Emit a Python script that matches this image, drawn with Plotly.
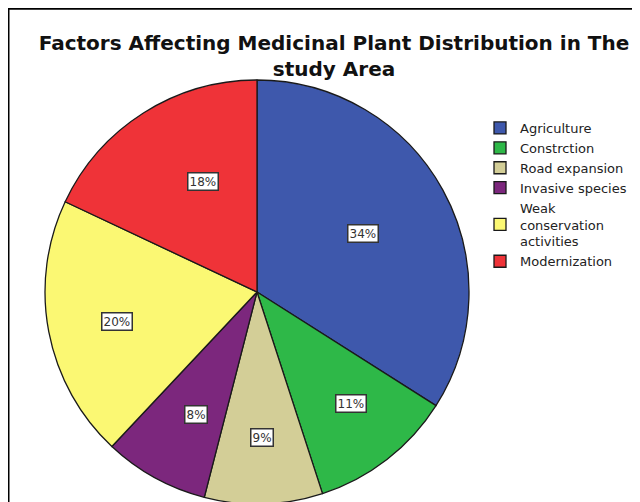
import numpy as np
import plotly.graph_objects as go

# ---- data ----
categories = ["Agriculture", "Constrction", "Road expansion", "Invasive species",
              "Weak<br>conservation<br>activities", "Modernization"]
percent_values = [34, 11, 9, 8, 20, 18]
percent_labels = ["34%", "11%", "9%", "8%", "20%", "18%"]

# ---- style ----
colors = ["#3E58AC", "#2EB848", "#D3CE97", "#7C277D", "#FBF873", "#EF3338"]
label_radius_frac = [0.57, 0.72, 0.73, 0.71, 0.75, 0.62]

W, H = 640, 502
cx, cy, R = 249, 284, 212  # pixel centre/radius of pie (figure coords)

fig = go.Figure()
fig.add_trace(go.Pie(
    labels=categories,
    values=percent_values,
    sort=False,
    direction="clockwise",
    rotation=0,
    marker=dict(colors=colors, line=dict(color="#1a1a1a", width=1.3)),
    textinfo="none",
    hoverinfo="label+percent",
    domain=dict(x=[(cx - R) / W, (cx + R) / W],
                y=[(H - cy - R) / H, (H - cy + R) / H]),
))

# percentage labels in boxes, positioned at slice mid-angles
vals = np.array(percent_values, dtype=float)
cum = np.cumsum(vals) - vals / 2
mid_angles = np.deg2rad(cum / vals.sum() * 360)
annotations = []
for lab, ang, f in zip(percent_labels, mid_angles, label_radius_frac):
    px = cx + R * f * np.sin(ang)
    py = cy - R * f * np.cos(ang)
    annotations.append(dict(
        x=px / W, y=1 - py / H, xref="paper", yref="paper",
        text=lab, showarrow=False,
        font=dict(family="DejaVu Sans", size=12, color="#333"),
        bgcolor="white", bordercolor="#333", borderwidth=1.5, borderpad=1,
    ))

fig.update_layout(
    width=W, height=H,
    margin=dict(l=0, r=0, t=0, b=0),
    paper_bgcolor="white",
    title=dict(
        text="<b>Factors Affecting Medicinal Plant Distribution in The<br>study Area</b>",
        x=326 / W, xanchor="center", y=1 - 42 / H, yanchor="top",
        font=dict(family="DejaVu Sans", size=20, color="#111"),
    ),
    legend=dict(
        x=472 / W, xanchor="left", y=1 - 105 / H, yanchor="top",
        font=dict(family="DejaVu Sans", size=13, color="#222"),
        itemclick=False, tracegroupgap=0, bgcolor="rgba(0,0,0,0)",
    ),
    annotations=annotations,
    shapes=[
        dict(type="line", xref="paper", yref="paper", x0=0, x1=1, y0=1 - 0.5 / H, y1=1 - 0.5 / H,
             line=dict(color="black", width=2.5)),
        dict(type="line", xref="paper", yref="paper", x0=0.5 / W, x1=0.5 / W, y0=0, y1=1,
             line=dict(color="black", width=2)),
    ],
)

fig.write_html("out.html")
